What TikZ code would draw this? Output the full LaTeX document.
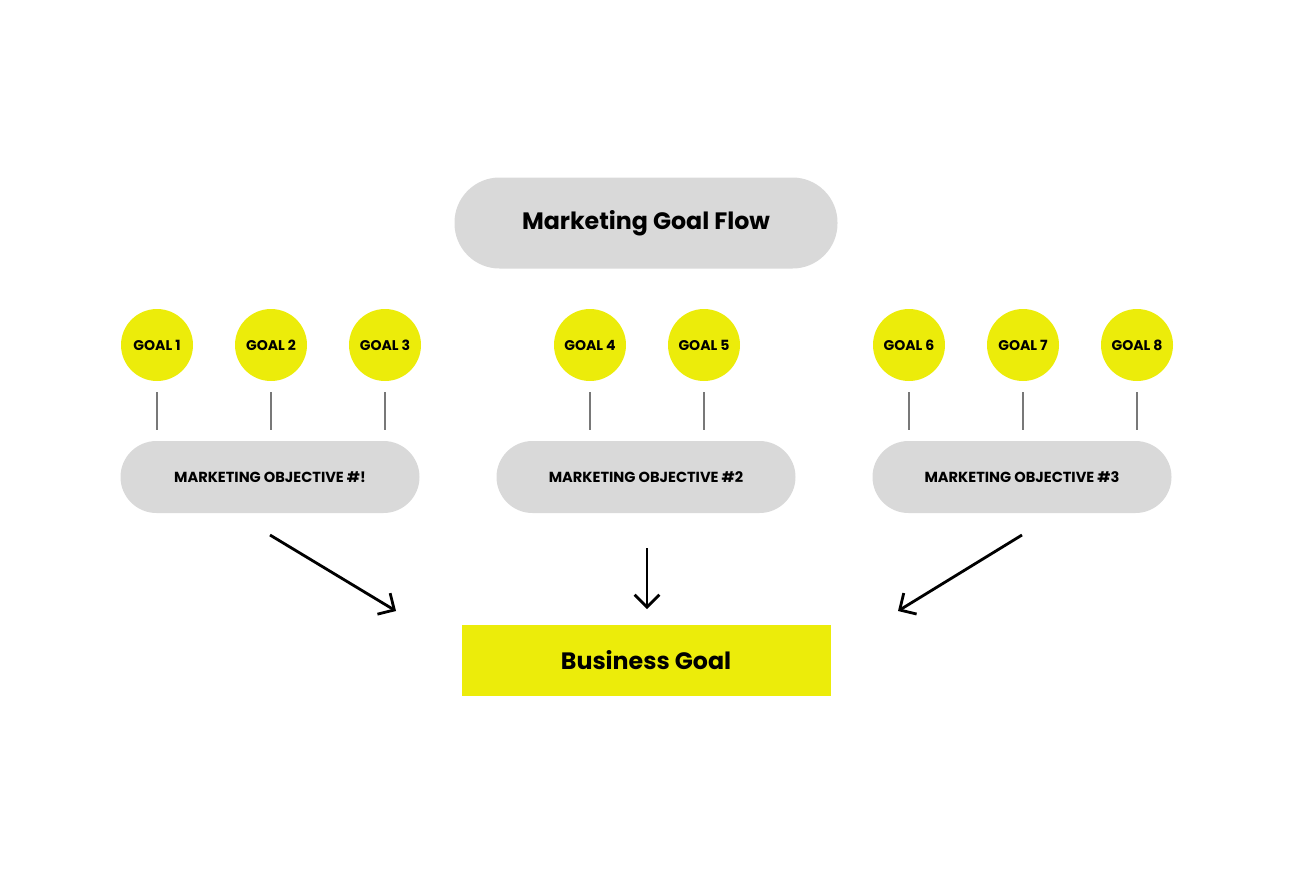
\documentclass[tikz,border=0pt]{standalone}
\usepackage{fontspec}
\setmainfont{Poppins}
\usetikzlibrary{positioning}
\definecolor{cgray}{RGB}{217,217,217}
\definecolor{cyellow}{RGB}{236,236,10}
\definecolor{cline}{RGB}{120,120,120}
\tikzset{
  pill/.style={fill=cgray, rounded corners=36*0.02cm, inner sep=0pt},
  goal/.style={circle, fill=cyellow, minimum size=72*0.02cm, inner sep=0pt, font=\fontsize{8}{9}\selectfont\bfseries},
  objective/.style={pill, minimum width=299*0.02cm, minimum height=72*0.02cm, font=\fontsize{8.3}{10}\selectfont\bfseries},
  link/.style={cline, line width=0.8pt},
  flow/.style={->, line width=1.6pt, >={Straight Barb[length=7pt, width=14pt]}}
}
\usetikzlibrary{arrows.meta}
\begin{document}
\begin{tikzpicture}[x=0.02cm, y=-0.02cm]
  \useasboundingbox (0,0) rectangle (1295,873);

  % title
  \node [pill, rounded corners=45*0.02cm, minimum width=383*0.02cm, minimum height=91*0.02cm,
    font=\fontsize{13.5}{15}\selectfont\bfseries] (title) at (646,223) {Marketing Goal Flow};

  % objectives
  \node [objective] (obj1) at (270,477) {MARKETING OBJECTIVE \#!};
  \node [objective] (obj2) at (646,477) {MARKETING OBJECTIVE \#2};
  \node [objective] (obj3) at (1022,477) {MARKETING OBJECTIVE \#3};

  % goals
  \foreach \n/\x in {1/157, 2/271, 3/385, 4/590, 5/704, 6/909, 7/1023, 8/1137} {
    \node [goal] (g\n) at (\x,345) {GOAL \n};
    \coordinate (t\n) at (\x,392);
    \coordinate (b\n) at (\x,430);
    \draw [link] (t\n) -- (b\n);
  }

  % business goal
  \node [fill=cyellow, minimum width=369*0.02cm, minimum height=71*0.02cm,
    font=\fontsize{13.5}{15}\selectfont\bfseries] (biz) at (646,660) {Business Goal};

  % arrows
  \coordinate (s1) at (270,535); \coordinate (e1) at (396,611);
  \coordinate (s2) at (647,548); \coordinate (e2) at (647,609);
  \coordinate (s3) at (1022,535); \coordinate (e3) at (898,611);
  \foreach \i in {1,2,3} {
    \draw [flow] (s\i) -- (e\i);
  }
\end{tikzpicture}
\end{document}
